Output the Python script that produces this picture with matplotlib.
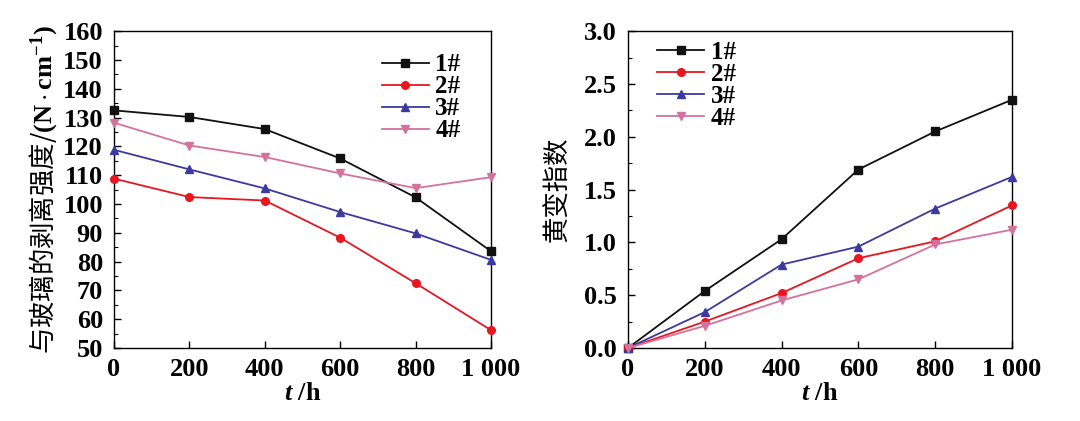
import matplotlib
matplotlib.use("Agg")
import matplotlib.pyplot as plt
from matplotlib.ticker import MultipleLocator, FuncFormatter

t = [0, 200, 400, 600, 800, 1000]
labels = ["1#", "2#", "3#", "4#"]
peel = {
    "1#": [132.5, 130.2, 126.0, 115.8, 102.3, 83.6],
    "2#": [108.8, 102.4, 101.2, 88.3, 72.5, 56.2],
    "3#": [118.8, 112.0, 105.4, 97.2, 89.8, 80.6],
    "4#": [128.2, 120.3, 116.3, 110.6, 105.5, 109.3],
}
yellow = {
    "1#": [0.0, 0.54, 1.03, 1.69, 2.05, 2.35],
    "2#": [0.0, 0.25, 0.52, 0.85, 1.01, 1.35],
    "3#": [0.0, 0.34, 0.79, 0.96, 1.32, 1.62],
    "4#": [0.0, 0.21, 0.45, 0.65, 0.98, 1.12],
}
colors = {"1#": "#111111", "2#": "#e8161e", "3#": "#3a3aa0", "4#": "#d4729e"}
markers = {"1#": "s", "2#": "o", "3#": "^", "4#": "v"}

plt.rcParams["mathtext.fontset"] = "custom"
plt.rcParams["mathtext.rm"] = "Liberation Serif:bold"
plt.rcParams["mathtext.bf"] = "Liberation Serif:bold"
plt.rcParams["mathtext.it"] = "Liberation Serif:italic:bold"

serif = ["Liberation Serif", "DejaVu Serif"]
cjk = ["Noto Sans CJK SC", "DejaVu Sans"]
TICK_FS = 19

fig = plt.figure(figsize=(10.8, 4.21), dpi=100)
ax1 = fig.add_axes([0.1056, 0.1734, 0.349, 0.7526])
ax2 = fig.add_axes([0.5815, 0.1734, 0.3555, 0.7526])

def fmt_x(v, pos):
    v = int(round(v))
    return "1 000" if v == 1000 else str(v)

for ax, data in ((ax1, peel), (ax2, yellow)):
    for lab in labels:
        ax.plot(t, data[lab], color=colors[lab], marker=markers[lab], markersize=5.5,
                linewidth=1.3, label=lab, clip_on=False, zorder=3)
    ax.set_xlim(0, 1000)
    ax.xaxis.set_major_locator(MultipleLocator(200))
    ax.xaxis.set_major_formatter(FuncFormatter(fmt_x))
    ax.tick_params(axis="both", which="both", direction="in", top=False, right=False)
    ax.tick_params(which="major", length=5, width=1.0)
    ax.tick_params(which="minor", length=3, width=0.8)
    ax.tick_params(axis="y", which="major", pad=8)
    ax.tick_params(axis="x", which="major", pad=7)
    for s in ax.spines.values():
        s.set_linewidth(1.0)
    ax.set_xlabel("$\\mathit{t}$ /h", fontfamily=serif, fontweight="bold", fontsize=19, labelpad=1)

ax1.set_ylim(50, 160)
ax1.yaxis.set_major_locator(MultipleLocator(10))
ax1.yaxis.set_minor_locator(MultipleLocator(5))
ax2.set_ylim(0, 3.0)
ax2.yaxis.set_major_locator(MultipleLocator(0.5))
ax2.yaxis.set_minor_locator(MultipleLocator(0.25))
ax2.yaxis.set_major_formatter(FuncFormatter(lambda v, p: f"{v:.1f}"))

for ax in (ax1, ax2):
    for lbl in ax.get_xticklabels() + ax.get_yticklabels():
        lbl.set_fontfamily(serif)
        lbl.set_fontweight("bold")
        lbl.set_fontsize(TICK_FS)

ax1.set_ylabel("与玻璃的剥离强度/$\\mathbf{(N\\cdot cm^{-1})}$", fontfamily=cjk,
               fontweight="light", fontsize=19, labelpad=3)
ax2.set_ylabel("黄变指数", fontfamily=cjk, fontweight="light", fontsize=19, labelpad=10)

leg_kw = dict(frameon=False, prop={"family": serif, "weight": "bold", "size": 18},
              handlelength=1.9, handletextpad=0.25, labelspacing=-0.04, borderaxespad=0.0,
              borderpad=0.0)
ax1.legend(loc="upper left", bbox_to_anchor=(0.71, 0.93), **leg_kw)
ax2.legend(loc="upper left", bbox_to_anchor=(0.075, 0.97), **leg_kw)

fig.savefig("out.png", dpi=100)
